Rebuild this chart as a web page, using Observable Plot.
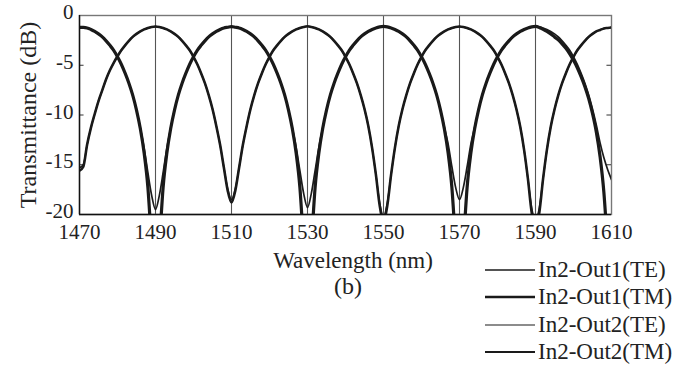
<!DOCTYPE html>
<html>
<head>
<meta charset="utf-8">
<script src="https://cdn.jsdelivr.net/npm/d3@7"></script>
<script src="https://cdn.jsdelivr.net/npm/@observablehq/plot@0.6"></script>
<style>
  body { margin: 0; background: #fff; }
  #wrap { position: relative; width: 688px; height: 366px; font-family: "Liberation Serif", "DejaVu Serif", "Times New Roman", serif; color: #222; }
  #wrap svg { display: block; }
  .lab { position: absolute; white-space: nowrap; font-size: 24px; line-height: 1; }
  #ylab { left: 27.5px; top: 115px; transform: translate(-50%, -50%) rotate(-90deg); }
  #xlab { left: 353px; top: 260px; transform: translate(-50%, -50%); font-size: 23px; }
  #cap { left: 348px; top: 286px; transform: translate(-50%, -50%); }
  #legend { position: absolute; left: 485px; top: 256px; font-size: 23px; }
  .row { display: flex; align-items: center; height: 27.5px; }
  .row svg { margin-right: 3px; }
</style>
</head>
<body>
<div id="wrap"></div>
<script>
// Sampling grid (nm)
const wavelengths = d3.range(1470, 1611);
const xTicks = [1470, 1490, 1510, 1530, 1550, 1570, 1590, 1610];
const yTicks = [0, -5, -10, -15, -20];
const seriesNames = ["In2-Out1(TE)", "In2-Out1(TM)", "In2-Out2(TE)", "In2-Out2(TM)"];

// Transmittance (dB), values, one per nm from 1470 to 1610
const out1TE = [
  -1.25, -1.2, -1.25, -1.4, -1.6, -1.85, -2.15, -2.55, -3.0, -3.5,
  -4.15, -4.9, -5.8, -6.8, -8.0, -9.5, -11.3, -13.3, -15.8, -18.1,
  -19.5, -18.1, -15.8, -13.3, -11.3, -9.5, -8.0, -6.8, -5.8, -4.9,
  -4.15, -3.5, -3.0, -2.55, -2.15, -1.85, -1.6, -1.4, -1.25, -1.18,
  -1.12, -1.18, -1.25, -1.4, -1.6, -1.85, -2.15, -2.55, -3.0, -3.5,
  -4.15, -4.9, -5.8, -6.8, -8.0, -9.5, -11.3, -13.2, -15.6, -17.9,
  -19.3, -17.9, -15.6, -13.2, -11.3, -9.5, -8.0, -6.8, -5.8, -4.9,
  -4.15, -3.5, -3.0, -2.55, -2.15, -1.85, -1.6, -1.4, -1.25, -1.15,
  -1.1, -1.15, -1.25, -1.4, -1.6, -1.85, -2.15, -2.55, -3.0, -3.5,
  -4.15, -4.9, -5.8, -6.8, -8.0, -9.5, -11.2, -12.9, -15.2, -17.3,
  -18.5, -17.3, -15.2, -12.9, -11.2, -9.5, -8.0, -6.8, -5.8, -4.9,
  -4.15, -3.5, -3.0, -2.55, -2.15, -1.85, -1.6, -1.4, -1.25, -1.15,
  -1.1, -1.15, -1.25, -1.4, -1.6, -1.85, -2.15, -2.55, -3.0, -3.5,
  -4.15, -4.9, -5.8, -6.8, -8.0, -9.4, -11.0, -12.8, -14.3, -15.5,
  -16.5
];
const out1TM = [
  -1.2, -1.2, -1.25, -1.4, -1.6, -1.85, -2.15, -2.55, -3.0, -3.5,
  -4.15, -4.9, -5.8, -6.8, -8.0, -9.5, -11.35, -13.8, -17.3, -23.3,
  -30, -23.3, -17.3, -13.8, -11.35, -9.5, -8.0, -6.8, -5.8, -4.9,
  -4.15, -3.5, -3.0, -2.55, -2.15, -1.85, -1.6, -1.4, -1.25, -1.18,
  -1.12, -1.18, -1.25, -1.4, -1.6, -1.85, -2.15, -2.55, -3.0, -3.5,
  -4.15, -4.9, -5.8, -6.8, -8.0, -9.5, -11.35, -13.8, -17.3, -23.3,
  -30, -23.3, -17.3, -13.8, -11.35, -9.5, -8.0, -6.8, -5.8, -4.9,
  -4.15, -3.5, -3.0, -2.55, -2.15, -1.85, -1.6, -1.4, -1.25, -1.15,
  -1.1, -1.15, -1.25, -1.4, -1.6, -1.85, -2.15, -2.55, -3.0, -3.5,
  -4.15, -4.9, -5.8, -6.8, -8.0, -9.5, -11.35, -13.8, -17.3, -23.3,
  -30, -23.3, -17.3, -13.8, -11.35, -9.5, -8.0, -6.8, -5.8, -4.9,
  -4.15, -3.5, -3.0, -2.55, -2.15, -1.85, -1.6, -1.4, -1.25, -1.15,
  -1.1, -1.2, -1.4, -1.6, -1.85, -2.15, -2.45, -2.85, -3.3, -3.85,
  -4.5, -5.25, -6.15, -7.15, -8.35, -9.85, -11.7, -14.2, -17.8, -23.5,
  -30
];
const out2TE = [
  -15.3, -15.0, -13.0, -11.3, -9.9, -8.6, -7.5, -6.4, -5.5, -4.75,
  -4.1, -3.5, -3.0, -2.55, -2.15, -1.85, -1.6, -1.4, -1.25, -1.15,
  -1.1, -1.15, -1.25, -1.4, -1.6, -1.85, -2.15, -2.55, -3.0, -3.5,
  -4.15, -4.9, -5.8, -6.8, -8.0, -9.4, -11.1, -13.0, -15.3, -17.4,
  -18.5, -17.4, -15.3, -13.0, -11.1, -9.4, -8.0, -6.8, -5.8, -4.9,
  -4.15, -3.5, -3.0, -2.55, -2.15, -1.85, -1.6, -1.4, -1.25, -1.15,
  -1.08, -1.15, -1.25, -1.4, -1.6, -1.85, -2.15, -2.55, -3.0, -3.5,
  -4.15, -4.9, -5.8, -6.8, -8.0, -9.4, -11.1, -13.3, -16.0, -18.8,
  -20.2, -18.8, -16.0, -13.3, -11.1, -9.4, -8.0, -6.8, -5.8, -4.9,
  -4.15, -3.5, -3.0, -2.55, -2.15, -1.85, -1.6, -1.4, -1.25, -1.15,
  -1.1, -1.15, -1.25, -1.4, -1.6, -1.85, -2.15, -2.55, -3.0, -3.5,
  -4.15, -4.9, -5.8, -6.8, -8.0, -9.45, -11.2, -13.5, -16.4, -19.3,
  -20.6, -19.3, -16.4, -13.5, -11.2, -9.45, -8.0, -6.8, -5.8, -4.9,
  -4.15, -3.5, -3.0, -2.55, -2.15, -1.85, -1.6, -1.45, -1.3, -1.25,
  -1.2
];
const out2TM = [
  -15.6, -15.2, -13.0, -11.3, -9.9, -8.6, -7.5, -6.4, -5.5, -4.75,
  -4.1, -3.5, -3.0, -2.55, -2.15, -1.85, -1.6, -1.4, -1.25, -1.15,
  -1.1, -1.15, -1.25, -1.4, -1.6, -1.85, -2.15, -2.55, -3.0, -3.5,
  -4.15, -4.9, -5.8, -6.8, -8.0, -9.4, -11.1, -13.0, -15.3, -17.6,
  -18.8, -17.6, -15.3, -13.0, -11.1, -9.4, -8.0, -6.8, -5.8, -4.9,
  -4.15, -3.5, -3.0, -2.55, -2.15, -1.85, -1.6, -1.4, -1.25, -1.15,
  -1.08, -1.15, -1.25, -1.4, -1.6, -1.85, -2.15, -2.55, -3.0, -3.5,
  -4.15, -4.9, -5.8, -6.8, -8.0, -9.4, -11.1, -13.3, -16.0, -19.1,
  -20.7, -19.1, -16.0, -13.3, -11.1, -9.4, -8.0, -6.8, -5.8, -4.9,
  -4.15, -3.5, -3.0, -2.55, -2.15, -1.85, -1.6, -1.4, -1.25, -1.15,
  -1.1, -1.15, -1.25, -1.4, -1.6, -1.85, -2.15, -2.55, -3.0, -3.5,
  -4.15, -4.9, -5.8, -6.8, -8.0, -9.45, -11.2, -13.5, -16.4, -19.8,
  -21.2, -19.8, -16.4, -13.5, -11.2, -9.45, -8.0, -6.8, -5.8, -4.9,
  -4.15, -3.5, -3.0, -2.55, -2.15, -1.85, -1.6, -1.45, -1.3, -1.25,
  -1.2
];

const seriesValues = [out1TE, out1TM, out2TE, out2TM];
const seriesWidths = [1.7, 3.2, 1.5, 2.6];
const drawOrder = [1, 3, 2, 0];

const table = (vals) => wavelengths.map((w, i) => ({wavelength: w, value: vals[i]}));

const lineMarks = drawOrder.map(k =>
  Plot.line(table(seriesValues[k]), {
    x: "wavelength", y: "value", curve: "monotone-x",
    stroke: "#1a1a1a", strokeWidth: seriesWidths[k], clip: true
  })
);

const innerTicks = yTicks.slice(1, -1);
const serif = '"Liberation Serif", "DejaVu Serif", "Times New Roman", serif';

const chart = Plot.plot({
  width: 688, height: 366,
  marginLeft: 79, marginRight: 77, marginTop: 15, marginBottom: 152,
  style: {fontFamily: serif, fontSize: "21px", color: "#222", background: "transparent", overflow: "visible"},
  x: {domain: [1470, 1610]},
  y: {domain: [-20, 0]},
  marks: [
    Plot.ruleX(xTicks.slice(1, -1), {stroke: "#555", strokeWidth: 1.1}),
    Plot.frame({stroke: "#777", strokeWidth: 1.4}),
    Plot.ruleY(innerTicks, {y: d => d, x1: 1470, x2: 1471.2, stroke: "#333"}),
    Plot.ruleY(innerTicks, {y: d => d, x1: 1608.8, x2: 1610, stroke: "#333"}),
    ...lineMarks,
    Plot.ruleX([1470], {stroke: "#111", strokeWidth: 1.4}),
    Plot.ruleY([-20], {stroke: "#111", strokeWidth: 1.4}),
    Plot.axisX(xTicks, {tickSize: 0, tickPadding: 10, fontSize: 21, fontFamily: serif, tickFormat: d => String(d), label: null}),
    Plot.axisY(yTicks, {tickSize: 0, tickPadding: 6, fontSize: 21, fontFamily: serif, tickFormat: d => String(d), label: null, dy: -3})
  ]
});

const wrap = document.getElementById("wrap");
wrap.appendChild(chart);

function addLabel(id, txt) {
  const el = document.createElement("div");
  el.className = "lab"; el.id = id; el.textContent = txt;
  wrap.appendChild(el);
}
addLabel("ylab", "Transmittance (dB)");
addLabel("xlab", "Wavelength (nm)");
addLabel("cap", "(b)");

const legend = document.createElement("div");
legend.id = "legend";
seriesNames.forEach((name, k) => {
  const row = document.createElement("div");
  row.className = "row";
  const ns = "http://www.w3.org/2000/svg";
  const s = document.createElementNS(ns, "svg");
  s.setAttribute("width", 50); s.setAttribute("height", 10);
  const ln = document.createElementNS(ns, "line");
  ln.setAttribute("x1", 0); ln.setAttribute("x2", 50);
  ln.setAttribute("y1", 5); ln.setAttribute("y2", 5);
  ln.setAttribute("stroke", "#1a1a1a");
  ln.setAttribute("stroke-width", seriesWidths[k] * 0.8);
  s.appendChild(ln);
  const t = document.createElement("span");
  t.textContent = name;
  row.appendChild(s); row.appendChild(t);
  legend.appendChild(row);
});
wrap.appendChild(legend);
</script>
</body>
</html>
